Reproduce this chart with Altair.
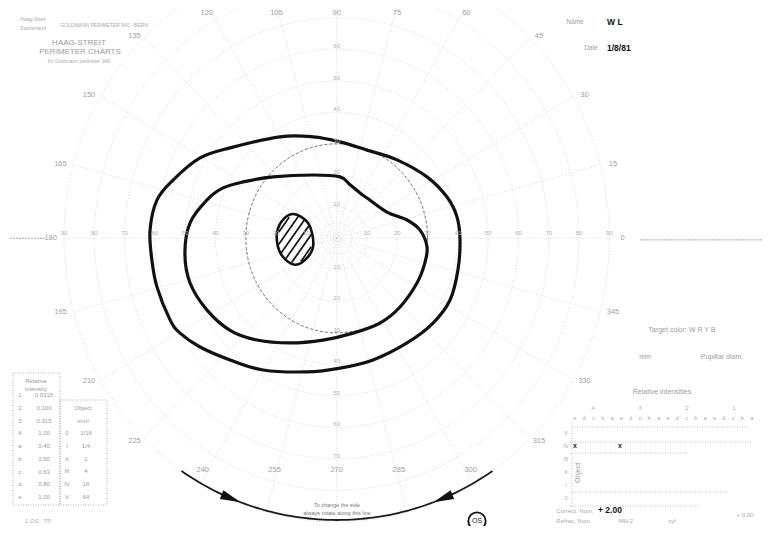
import math
import numpy as np
import pandas as pd
import altair as alt

FONT = "Liberation Sans"

# ---------------- values (visual-field degrees) ----------------
# outer isopter (x: horizontal field degrees, y: vertical field degrees)
outer_x = [40.7, 40.0, 37.4, 31.8, 23.2, 12.0, 1.1, -9.8, -24.3, -35.2, -45.1, -51.7, -55.0, -59.3,
           -61.0, -61.6, -59.3, -54.0, -45.1, -35.2, -18.7, -7.8, 1.1, 10.0, 19.9, 29.8, 36.4, 39.7]
outer_y = [-0.5, -10.1, -19.6, -26.9, -33.2, -38.6, -41.2, -42.4, -41.8, -38.6, -34.5, -30.1, -25.9, -15.5,
           -6.9, 2.6, 12.2, 18.5, 25.5, 28.7, 32.2, 32.2, 30.6, 28.0, 24.9, 19.5, 13.1, 6.8]

# inner isopter
inner_x = [-30.9, -21.0, -7.8, 1.1, 4.4, 7.7, 10.0, 16.6, 23.2, 27.5, 29.8, 29.1, 26.5, 20.9, 14.3,
           5.4, -4.5, -15.4, -26.3, -35.2, -42.8, -48.4, -50.1, -48.4, -42.8, -37.5]
inner_y = [17.9, 19.5, 20.1, 19.5, 17.0, 14.4, 12.8, 8.3, 5.8, 2.6, -2.7, -7.8, -14.2, -21.8, -26.9,
           -30.1, -32.3, -33.2, -32.3, -29.2, -22.8, -14.2, -4.7, 4.9, 12.2, 16.0]

# blind spot (scotoma) outline
blind_x = [-14.3, -9.4, -7.7, -9.4, -13.8, -18.2, -19.8, -18.2]
blind_y = [7.7, 4.8, -1.6, -5.8, -8.4, -5.3, 0.5, 5.3]

# grid
ring_ecc = [5, 10, 20, 30, 40, 50, 60, 70, 80, 90]
ring_labels = [10, 20, 30, 40, 50, 60, 70, 80, 90]
meridians = list(range(0, 360, 15))
dashed_ring = 30

# legend tables
intensity_keys = ["1", "2", "3", "4", "a", "b", "c", "d", "e"]
intensity_vals = ["0.0315", "0.100", "0.315", "1.00", "0.40", "0.50", "0.63", "0.80", "1.00"]
object_keys = ["0", "I", "II", "III", "IV", "V"]
object_vals = ["1/16", "1/4", "1", "4", "16", "64"]
filter_nums = ["4", "3", "2", "1"]
filter_letters = ["e", "d", "c", "b", "a"]

# ---------------- geometry of the page ----------------
SX, SY = 3.03, 3.15          # px per degree
CX, CY = 336.7, 238.3        # centre of the field in page px
W, H = 754, 518
X0, X1 = (8 - CX) / SX, (8 + W - CX) / SX
Y0, Y1 = -(8 + H - CY) / SY, (CY - 8) / SY

xs = alt.Scale(domain=[X0, X1], nice=False, zero=False)
ys = alt.Scale(domain=[Y0, Y1], nice=False, zero=False)


def XY(xf="x", yf="y"):
    return dict(x=alt.X(f"{xf}:Q", scale=xs, axis=None), y=alt.Y(f"{yf}:Q", scale=ys, axis=None))


def P(px, py):
    return (px - CX) / SX, (CY - py) / SY


def text_layer(items, **kw):
    rows = []
    for t, px, py in items:
        x, y = P(px, py)
        rows.append(dict(t=t, x=x, y=y))
    base = dict(font=FONT, baseline="middle", align="center", fontSize=6, color="#a8a8a8")
    base.update(kw)
    return alt.Chart(pd.DataFrame(rows)).mark_text(**base).encode(**XY(), text="t:N")


layers = []
GRID = "#cdcdcd"

# ---- rings ----
rows = []
for e in ring_ecc:
    for k, a in enumerate(range(0, 362, 2)):
        r = math.radians(a)
        rows.append(dict(ring=e, k=k, x=e * math.cos(r), y=e * math.sin(r)))
rings = pd.DataFrame(rows)
layers.append(alt.Chart(rings).mark_line(color=GRID, strokeWidth=0.8, strokeDash=[1, 2], clip=True)
              .encode(**XY(), detail="ring:N", order="k:Q"))

# ---- radial meridian lines ----
rad = pd.DataFrame([dict(m=m, x=0.0, y=0.0, x2=90 * math.cos(math.radians(m)), y2=90 * math.sin(math.radians(m)))
                    for m in meridians])
layers.append(alt.Chart(rad).mark_rule(color=GRID, strokeWidth=0.8, strokeDash=[1, 2], clip=True)
              .encode(**XY(), x2="x2:Q", y2="y2:Q"))

# horizontal axis extensions
ext = pd.DataFrame([dict(x=P(10, 0)[0], x2=P(45, 0)[0], y=0.0), dict(x=P(640, 0)[0], x2=P(765, 0)[0], y=-0.5)])
layers.append(alt.Chart(ext).mark_rule(color="#a0a0a0", strokeWidth=0.9, strokeDash=[2, 1], clip=True)
              .encode(**XY(), x2="x2:Q"))

# dashed 30 degree circle
dc = rings[rings.ring == dashed_ring]
layers.append(alt.Chart(dc).mark_line(color="#6a6a6a", strokeWidth=0.9, strokeDash=[3, 2])
              .encode(**XY(), order="k:Q"))

# ---- isopters ----
for xv, yv in [(outer_x, outer_y), (inner_x, inner_y)]:
    df = pd.DataFrame(dict(x=xv, y=yv, k=range(len(xv))))
    layers.append(alt.Chart(df).mark_line(interpolate="cardinal-closed", color="#111111", strokeWidth=3.2)
                  .encode(**XY(), order="k:Q"))

# ---- blind spot: hatching + outline ----
bcx = (max(blind_x) + min(blind_x)) / 2
bcy = (max(blind_y) + min(blind_y)) / 2
a_px = (max(blind_x) - min(blind_x)) / 2 * SX * 0.93
b_px = (max(blind_y) - min(blind_y)) / 2 * SY * 0.93
phi = math.radians(55)
d = (math.cos(phi), math.sin(phi))
n = (math.sin(phi), -math.cos(phi))
hatch = []
for c in [-17.5, -10.5, -3.5, 3.5, 10.5, 17.5]:
    ox, oy = c * n[0], c * n[1]
    A = (d[0] / a_px) ** 2 + (d[1] / b_px) ** 2
    B = 2 * (ox * d[0] / a_px ** 2 + oy * d[1] / b_px ** 2)
    C = (ox / a_px) ** 2 + (oy / b_px) ** 2 - 1
    disc = B * B - 4 * A * C
    if disc <= 0:
        continue
    t1 = (-B - math.sqrt(disc)) / (2 * A)
    t2 = (-B + math.sqrt(disc)) / (2 * A)
    u1, v1 = ox + t1 * d[0], oy + t1 * d[1]
    u2, v2 = ox + t2 * d[0], oy + t2 * d[1]
    hatch.append(dict(x=bcx + u1 / SX, y=bcy + v1 / SY, x2=bcx + u2 / SX, y2=bcy + v2 / SY))
layers.append(alt.Chart(pd.DataFrame(hatch)).mark_rule(color="#111111", strokeWidth=1.7)
              .encode(**XY(), x2="x2:Q", y2="y2:Q"))
bdf = pd.DataFrame(dict(x=blind_x, y=blind_y, k=range(len(blind_x))))
layers.append(alt.Chart(bdf).mark_line(interpolate="cardinal-closed", color="#111111", strokeWidth=2.6)
              .encode(**XY(), order="k:Q"))

# ---- meridian labels around the frame ----
mrows = []
for m in meridians:
    r = math.radians(m)
    s = math.sin(r)
    R = 286.0
    if s > 1e-6:
        R = min(R, 225.0 / s)
    elif s < -1e-6:
        R = min(R, 232.0 / -s)
    px = CX + R * math.cos(r)
    py = CY - R * s
    mrows.append((str(m), px, py))
layers.append(text_layer(mrows, fontSize=7.5, color="#a0a0a0"))

# ring labels along axes
rl = []
for e in ring_labels:
    rl.append((str(e), CX + e * SX, CY - 5))
    rl.append((str(e), CX - e * SX, CY - 5))
    if e <= 60:
        rl.append((str(e), CX, CY - e * SY - 3))
    if e <= 70:
        rl.append((str(e), CX, CY + e * SY - 3))
layers.append(text_layer(rl, fontSize=6, color="#b0b0b0"))

# ---- header texts ----
layers.append(text_layer([("Haag-Streit", 33, 19), ("Switzerland", 33, 28),
                          ("GOLDMANN PERIMETER 940 · BERN", 104, 25),
                          ("for Goldmann perimeter 940", 79, 61)], fontSize=5, color="#aaaaaa"))
layers.append(text_layer([("HAAG-STREIT", 79, 43), ("PERIMETER CHARTS", 80, 52)],
                         fontSize=8, color="#9c9c9c"))
layers.append(text_layer([("Name", 575, 22), ("Date", 591, 48)], fontSize=6.5, color="#a0a0a0"))
layers.append(text_layer([("W L", 607, 22), ("1/8/81", 607, 48)], fontSize=8.5, color="#111111",
                         fontWeight="bold", align="left"))

# right side legend
layers.append(text_layer([("Target color:  W  R  Y  B", 682, 330), ("mm", 645, 357),
                          ("Pupillar diam.", 722, 357), ("Relative intensities", 662, 392)],
                         fontSize=7, color="#9c9c9c"))
fn = [(t, 593 + 47 * i, 408) for i, t in enumerate(filter_nums)]
fl = [(t, 575 + 9.3 * (5 * i + j), 418) for i, _ in enumerate(filter_nums) for j, t in enumerate(filter_letters)]
layers.append(text_layer(fn + fl, fontSize=5.5, color="#aaaaaa"))
obj_rows = [(t, 566, 433 + 13 * i) for i, t in enumerate(reversed(object_keys))]
layers.append(text_layer(obj_rows, fontSize=5.5, color="#aaaaaa"))
layers.append(text_layer([("Object", 578, 473)], fontSize=7, color="#999999", angle=270))
layers.append(text_layer([("x", 575, 446), ("x", 620, 446)], fontSize=7, color="#222222", fontWeight="bold"))
layers.append(text_layer([("Correct. Nom.", 575, 511), ("Refrac. Nom.", 574, 521), ("MH 2", 626, 521),
                          ("cyl", 672, 521), ("+ 0.00", 745, 515)], fontSize=6, color="#a8a8a8"))
layers.append(text_layer([("+ 2.00", 598, 510)], fontSize=8.5, color="#111111", fontWeight="bold", align="left"))

# dotted lines of the relative-intensity grid
gl = []
for py, a, b in [(427, 572, 748), (442, 570, 752), (453, 570, 688), (492, 570, 728), (506, 570, 700)]:
    x1, y1 = P(a, py)
    x2, _ = P(b, py)
    gl.append(dict(x=x1, x2=x2, y=y1, y2=y1))
vx, vy1 = P(572, 423)
_, vy2 = P(572, 507)
gl.append(dict(x=vx, x2=vx, y=vy1, y2=vy2))
layers.append(alt.Chart(pd.DataFrame(gl)).mark_rule(color="#b0b0b0", strokeWidth=0.8, strokeDash=[1, 1.5])
              .encode(**XY(), x2="x2:Q", y2="y2:Q"))

# ---- bottom-left tables ----
boxes = []
for a, b, c, e in [(13, 373, 60, 505), (60, 400, 107, 505)]:
    x1, y1 = P(a, b)
    x2, y2 = P(c, e)
    boxes.append(dict(x=x1, y=y1, x2=x2, y2=y2))
layers.append(alt.Chart(pd.DataFrame(boxes)).mark_rect(fillOpacity=0, stroke="#a0a0a0", strokeWidth=0.8,
                                                       strokeDash=[1, 1.5])
              .encode(**XY(), x2="x2:Q", y2="y2:Q"))
tb = [("Relative", 36, 381), ("intensity", 36, 389), ("Object", 83, 408), ("mm²", 83, 421)]
for i, (k, v) in enumerate(zip(intensity_keys, intensity_vals)):
    tb.append((k, 20, 395 + 12.75 * i))
    tb.append((v, 44, 395 + 12.75 * i))
for i, (k, v) in enumerate(zip(object_keys, object_vals)):
    tb.append((k, 67, 433 + 12.8 * i))
    tb.append((v, 86, 433 + 12.8 * i))
layers.append(text_layer(tb, fontSize=6, color="#9a9a9a"))
layers.append(text_layer([("1 OS · TP", 38, 521)], fontSize=6, color="#b0b0b0"))

# ---- rotation arc with arrows ----
ARC_CX, ARC_CY, ARC_R = 337.0, 249.0, 271.0
arc = []
for k, a in enumerate(range(235, 306)):
    r = math.radians(a)
    x, y = P(ARC_CX + ARC_R * math.cos(r), ARC_CY - ARC_R * math.sin(r))
    arc.append(dict(k=k, x=x, y=y))
layers.append(alt.Chart(pd.DataFrame(arc)).mark_line(color="#1a1a1a", strokeWidth=1.8)
              .encode(**XY(), order="k:Q"))
arrows = []
for a, rot in [(247, 112), (293, 248)]:
    r = math.radians(a)
    x, y = P(ARC_CX + ARC_R * math.cos(r), ARC_CY - ARC_R * math.sin(r))
    arrows.append(dict(x=x, y=y, rot=rot))
layers.append(alt.Chart(pd.DataFrame(arrows)).mark_point(shape="M0,-1L0.45,1L-0.45,1Z", filled=True,
                                                          color="#111111", size=420, opacity=1)
              .encode(**XY(), angle=alt.Angle("rot:Q", scale=None)))
layers.append(text_layer([("To change the side", 337, 505), ("always rotate along this line", 337, 513)],
                         fontSize=5.5, color="#777777"))

# OS circle
ox_, oy_ = P(477, 521)
layers.append(alt.Chart(pd.DataFrame([dict(x=ox_, y=oy_)])).mark_point(shape="circle", filled=False,
                                                                         color="#111111", size=300,
                                                                         strokeWidth=1.8, opacity=1)
              .encode(**XY()))
layers.append(text_layer([("OS", 477, 521)], fontSize=7, color="#222222"))

chart = alt.layer(*layers).properties(
    width=W, height=H, padding=0, autosize=alt.AutoSizeParams(type="none"), background="white"
).configure_view(stroke=None)

chart.save("out.html", embed_options={"renderer": "svg", "actions": False})
